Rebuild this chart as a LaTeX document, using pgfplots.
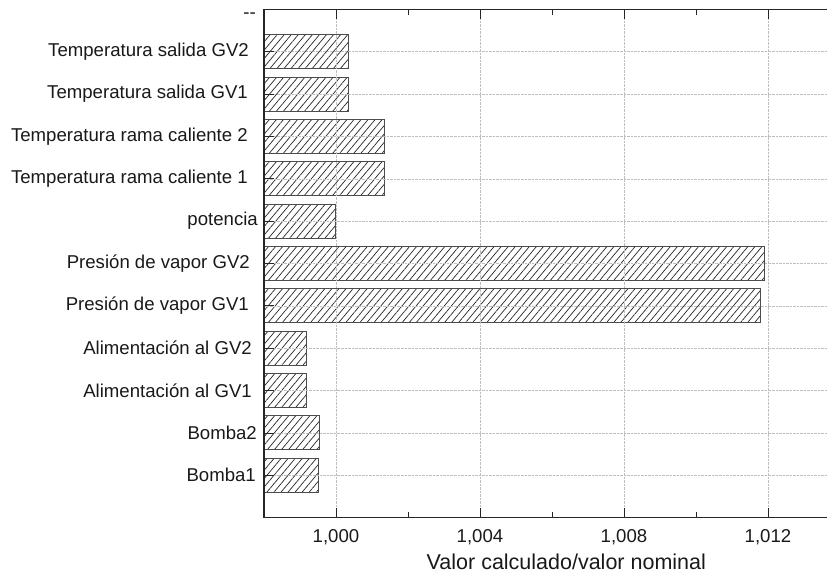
\documentclass[border=0pt]{standalone}
\usepackage{fontspec}
\setmainfont{Liberation Sans}
\usepackage{pgfplots}
\usepackage{pgfplotstable}
\pgfplotsset{compat=1.18}
\usetikzlibrary{patterns.meta}

\pgfplotstableread{
y val
1 0.99951
2 0.99954
3 0.99917
4 0.99917
5 1.01178
6 1.01189
7 0.99999
8 1.00135
9 1.00135
10 1.00035
11 1.00035
}\datatable

\begin{document}
\begin{tikzpicture}
\begin{axis}[
  name=ax,
  scale only axis,
  width=563bp, height=508.4bp,
  xmin=0, xmax=0.01564,
  ymin=0, ymax=12,
  axis x line=box, axis y line=left,
  x axis line style={-}, y axis line style={-},
  axis line style={line width=1.1bp, black!85},
  axis on top,
  tick align=inside,
  major tick length=10bp, minor tick length=5.5bp,
  tick style={line width=0.9bp, black!85},
  scaled x ticks=false,
  xtick={0.002,0.006,0.010,0.014},
  xticklabels={{1,000},{1,004},{1,008},{1,012}},
  minor xtick={0.004,0.008,0.012},
  ytick={1,2,3,4,5,6,7,8,9,10,11,12},
  yticklabels={
    {Bomba1\kern2bp},
    {Bomba2\kern1bp},
    {Alimentación al GV1\kern6bp},
    {Alimentación al GV2\kern6bp},
    {Presión de vapor GV1\kern9bp},
    {Presión de vapor GV2\kern8bp},
    {potencia},
    {Temperatura rama caliente 1\kern10bp},
    {Temperatura rama caliente 2\kern10bp},
    {Temperatura salida GV1\kern10bp},
    {Temperatura salida GV2\kern9bp},
    {\vphantom{Bg}\smash{\raisebox{-4.5bp}{{-}{-}}}\kern2bp}},
  tick label style={font=\fontsize{18.6bp}{22bp}\selectfont, text=black!90},
  yticklabel style={anchor=east, inner sep=0pt, xshift=-6bp},
  xticklabel style={anchor=north, inner sep=0pt, yshift=-12bp},
  grid=major,
  major grid style={densely dotted, line width=0.5bp, gray!50},
  xlabel={Valor calculado/valor nominal},
  xlabel style={font=\fontsize{21.5bp}{25bp}\selectfont, at={(axis description cs:0.537,0)}, anchor=north, yshift=-36bp, inner sep=0pt, text=black!90},
]
\addplot[xbar, bar width=34bp, draw=black!70, line width=1bp,
  pattern={Lines[angle=50,distance=5.4bp,line width=0.7bp]}, pattern color=black!85]
  table[x expr=\thisrow{val}-0.998, y=y] {\datatable};
\end{axis}
\pgfresetboundingbox
\path[use as bounding box] ([shift={(-264bp,-57.3bp)}]ax.south west) rectangle ([shift={(0bp,9.3bp)}]ax.north east);
\end{tikzpicture}
\end{document}
